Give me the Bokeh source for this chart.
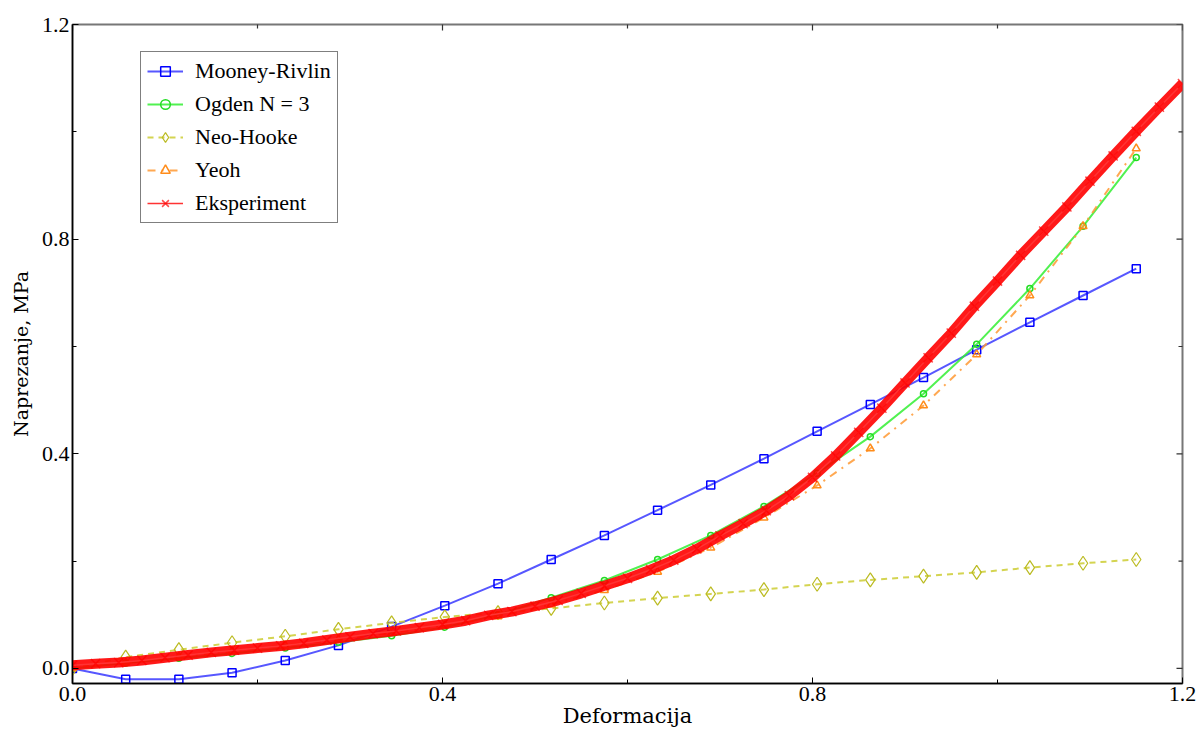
import math
from bokeh.plotting import figure
from bokeh.models import Range1d, FixedTicker, Legend, LegendItem, NumeralTickFormatter
from bokeh.embed import file_html
from bokeh.resources import INLINE

# ---- data ----
strain = [0.0, 0.0575, 0.115, 0.1725, 0.23, 0.2875, 0.345, 0.4025, 0.46, 0.5175, 0.575,
          0.6325, 0.69, 0.7475, 0.805, 0.8625, 0.92, 0.9775, 1.035, 1.0925, 1.15]
mooney_rivlin = [0.0, -0.020, -0.020, -0.008, 0.015, 0.043, 0.078, 0.117, 0.158, 0.203, 0.248,
                 0.295, 0.342, 0.391, 0.442, 0.492, 0.542, 0.594, 0.645, 0.695, 0.745]
ogden = [0.0, 0.010, 0.019, 0.028, 0.038, 0.049, 0.061, 0.077, 0.100, 0.132, 0.164,
         0.203, 0.248, 0.302, 0.364, 0.432, 0.512, 0.604, 0.708, 0.824, 0.952]
neo_hooke = [0.0, 0.021, 0.035, 0.048, 0.060, 0.073, 0.085, 0.096, 0.104, 0.112, 0.122,
             0.131, 0.139, 0.147, 0.157, 0.165, 0.172, 0.179, 0.188, 0.196, 0.203]
yeoh = [0.0, 0.011, 0.022, 0.032, 0.043, 0.054, 0.066, 0.080, 0.097, 0.119, 0.146,
        0.180, 0.225, 0.281, 0.341, 0.410, 0.490, 0.585, 0.695, 0.824, 0.969]

exp_strain = [0.000, 0.025, 0.050, 0.075, 0.100, 0.125, 0.150, 0.175, 0.200, 0.225, 0.250,
              0.275, 0.300, 0.325, 0.350, 0.375, 0.400, 0.425, 0.450, 0.475, 0.500,
              0.525, 0.550, 0.575, 0.600, 0.625, 0.650, 0.675, 0.700, 0.725, 0.750,
              0.775, 0.800, 0.825, 0.850, 0.875, 0.900, 0.925, 0.950, 0.975, 1.000,
              1.025, 1.050, 1.075, 1.100, 1.125, 1.150, 1.175, 1.200]
exp_stress = [0.006, 0.009, 0.011, 0.015, 0.020, 0.025, 0.030, 0.034, 0.038, 0.042, 0.047,
              0.053, 0.059, 0.065, 0.070, 0.076, 0.082, 0.089, 0.099, 0.106, 0.116,
              0.127, 0.140, 0.154, 0.168, 0.184, 0.202, 0.223, 0.247, 0.270, 0.294,
              0.322, 0.356, 0.396, 0.440, 0.485, 0.532, 0.579, 0.625, 0.675, 0.722,
              0.770, 0.815, 0.860, 0.908, 0.955, 1.001, 1.046, 1.090]

x_ticks = [0.0, 0.4, 0.8, 1.2]
x_minor = [0.2, 0.6, 1.0]
y_ticks = [0.0, 0.4, 0.8, 1.2]
y_minor = [0.2, 0.6, 1.0]

X_MIN, X_MAX = 0.0, 1.2
Y_MIN, Y_MAX = -0.028, 1.2
FONT = "DejaVu Serif"
FONT_SHORT = "serif"

p = figure(frame_width=1110, frame_height=659, output_backend="svg", toolbar_location=None,
           x_range=Range1d(X_MIN, X_MAX), y_range=Range1d(Y_MIN, Y_MAX),
           min_border_left=72, min_border_top=24, min_border_right=14, min_border_bottom=30,
           x_axis_label="Deformacija", y_axis_label="Naprezanje, MPa")
p.grid.visible = False
p.outline_line_color = "#777777"
p.outline_line_width = 2

for ax, tk, mn in ((p.xaxis[0], x_ticks, x_minor), (p.yaxis[0], y_ticks, y_minor)):
    ax.ticker = FixedTicker(ticks=tk, minor_ticks=mn)
    ax.formatter = NumeralTickFormatter(format="0.0")
    ax.major_tick_in = 6
    ax.major_tick_out = 0
    ax.minor_tick_in = 4
    ax.minor_tick_out = 0
    ax.axis_line_color = "black"
    ax.axis_line_width = 1.5
    ax.major_label_text_font = FONT_SHORT
    ax.major_label_text_font_size = "22px"
    ax.major_label_text_color = "black"
    ax.axis_label_text_font = FONT
    ax.axis_label_text_font_style = "normal"
    ax.axis_label_text_color = "black"
    ax.major_label_standoff = 3
    ax.axis_label_standoff = 0
p.xaxis.axis_label_text_font_size = "21px"
p.yaxis.axis_label_text_font_size = "19px"
p.yaxis.axis_label_standoff = 7

# inward ticks on the right and top frame edges (clipped to the frame)
p.scatter([X_MAX] * len(y_ticks), y_ticks, marker="dash", size=12, line_color="#333333", line_width=1.2)
p.scatter([X_MAX] * len(y_minor), y_minor, marker="dash", size=8, line_color="#333333", line_width=1.2)
p.scatter(x_ticks, [Y_MAX] * len(x_ticks), marker="dash", angle=math.pi / 2, size=12,
          line_color="#333333", line_width=1.2)
p.scatter(x_minor, [Y_MAX] * len(x_minor), marker="dash", angle=math.pi / 2, size=8,
          line_color="#333333", line_width=1.2)

# Mooney-Rivlin
mr_l = p.line(strain, mooney_rivlin, line_color="#3a3aff", line_width=2, line_alpha=0.85)
mr_m = p.scatter(strain, mooney_rivlin, marker="square", size=8, line_color="#0000ff",
                 fill_alpha=0, line_width=1.5)
# Ogden
og_l = p.line(strain, ogden, line_color="#33ee33", line_width=2, line_alpha=0.85)
og_m = p.scatter(strain, ogden, marker="circle", size=6, line_color="#22dd22",
                 fill_alpha=0, line_width=1.5)
# Neo-Hooke
nh_l = p.line(strain, neo_hooke, line_color="#cccc33", line_width=2, line_alpha=0.85,
              line_dash="6 5")
nh_m = p.scatter(strain, neo_hooke, marker="diamond", size=14, line_color="#bbbb22",
                 fill_alpha=0, line_width=1.2)
# Yeoh
ye_l = p.line(strain, yeoh, line_color="#ff9933", line_width=2, line_alpha=0.85,
              line_dash="8 6 2 6")
ye_m = p.scatter(strain, yeoh, marker="triangle", size=8, line_color="#ff8c1a",
                 fill_alpha=0, line_width=1.5)
# Experiment (dense band of x markers in the reference)
p.line(exp_strain, exp_stress, line_color="#ff0000", line_width=10, line_alpha=0.9)
ex_l = p.line(exp_strain, exp_stress, line_color="#ff3333", line_width=1.5)
ex_m = p.scatter(exp_strain, exp_stress, marker="x", size=13, line_color="#ff0000",
                 line_width=1.5, line_alpha=0.7)

legend = Legend(items=[
    LegendItem(label="Mooney-Rivlin", renderers=[mr_l, mr_m]),
    LegendItem(label="Ogden N = 3", renderers=[og_l, og_m]),
    LegendItem(label="Neo-Hooke", renderers=[nh_l, nh_m]),
    LegendItem(label="Yeoh", renderers=[ye_l, ye_m]),
    LegendItem(label="Eksperiment", renderers=[ex_l, ex_m]),
], location=(68, 460))
legend.label_text_font = FONT_SHORT
legend.label_text_font_size = "22px"
legend.label_text_color = "black"
legend.glyph_width = 36
legend.glyph_height = 24
legend.label_height = 24
legend.spacing = 7
legend.padding = 6
legend.label_standoff = 12
legend.border_line_color = "black"
legend.border_line_width = 1.5
legend.background_fill_alpha = 1
p.add_layout(legend, "center")

open("out.html", "w").write(file_html(p, INLINE))
